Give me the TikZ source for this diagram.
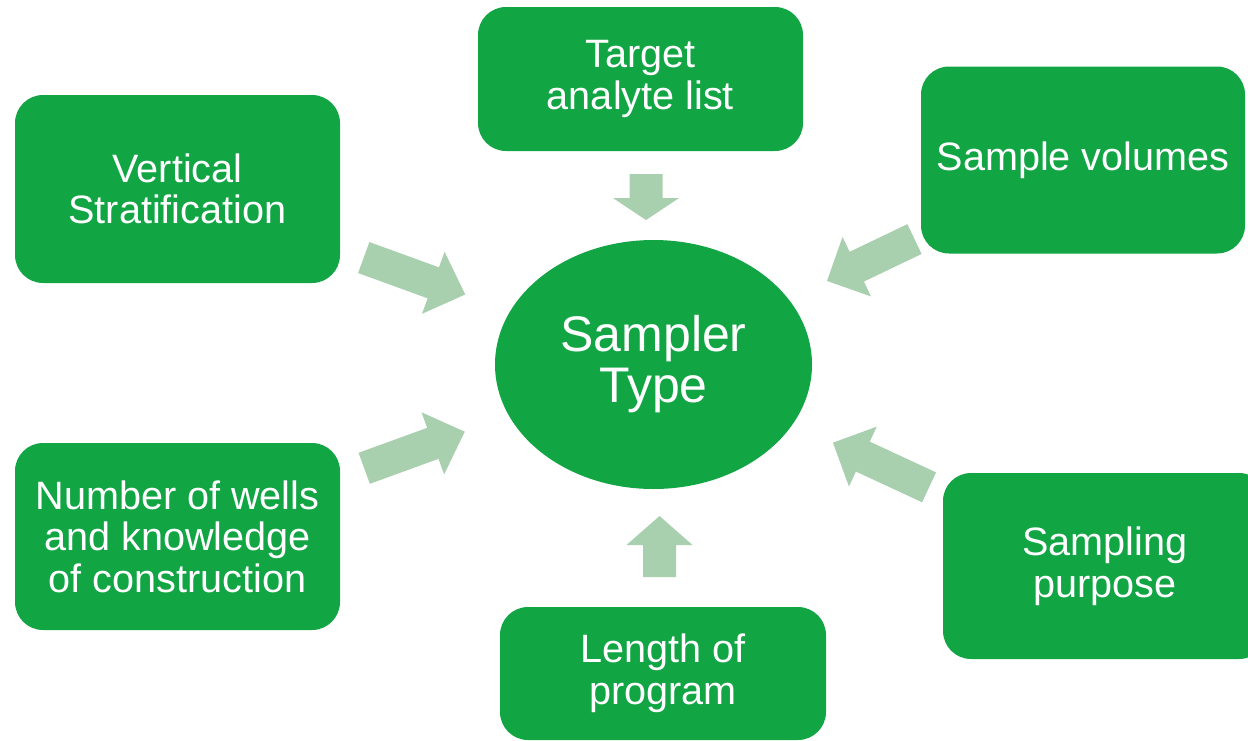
\documentclass[tikz,border=0pt]{standalone}
\usepackage{fontspec}
\setmainfont{Liberation Sans}
\usepackage{xcolor}
\usetikzlibrary{shapes.geometric}
\definecolor{boxgreen}{RGB}{17,165,68}
\definecolor{arrowgreen}{RGB}{169,208,174}

\tikzset{
  factorbox/.style={rectangle, rounded corners=14pt, fill=boxgreen, text=white,
    align=center, inner sep=0pt, font=\fontsize{19.8}{20.8}\selectfont},
  corebox/.style={ellipse, fill=boxgreen, text=white, align=center, inner sep=0pt,
    font=\fontsize{25}{25.5}\selectfont},
  pics/blockarrow/.style 2 args={code={
    \fill[arrowgreen] (-#1/2,-16.5) -- (#1/2-#2,-16.5) -- (#1/2-#2,-33) -- (#1/2,0)
      -- (#1/2-#2,33) -- (#1/2-#2,16.5) -- (-#1/2,16.5) -- cycle;
  }}
}

\begin{document}
\begin{tikzpicture}[x=0.5pt,y=-0.5pt]
\useasboundingbox (0,0) rectangle (1248,740);

% 1. CENTRE
\node[corebox, minimum width=158.5pt, minimum height=124.5pt] (core) at (653.5,364.5) {Sampler\\Type};

% 2. FACTOR BOXES
\node[factorbox, minimum width=162.5pt, minimum height=94pt] (vert) at (177.5,189) {Vertical\\Stratification};
\node[factorbox, minimum width=162.5pt, minimum height=72pt] (target) at (640.5,79) {Target\\analyte list};
\node[factorbox, minimum width=162pt, minimum height=93.5pt] (volume) at (1083,160) {Sample volumes};
\node[factorbox, minimum width=162.5pt, minimum height=93.5pt] (wells) at (177.5,536.5) {Number of wells\\and knowledge\\of construction};
\node[factorbox, minimum width=163pt, minimum height=66.5pt] (length) at (663,673.5) {Length of\\program};
\node[factorbox, minimum width=162pt, minimum height=93pt] (purpose) at (1105,566) {Sampling\\purpose};

% 3. BLOCK ARROWS
\pic[rotate=-20] (avert) at (414.5,276) {blockarrow={108}{34}};
\pic[rotate=20] (awells) at (414.5,450) {blockarrow={107}{34}};
\pic[rotate=-90] (atarget) at (646,197) {blockarrow={46}{22}};
\pic[rotate=90] (alength) at (659.5,546.5) {blockarrow={61}{29}};
\pic[rotate=205.6] (avolume) at (870.75,260) {blockarrow={97}{33}};
\pic[rotate=155.1] (apurpose) at (881,465) {blockarrow={106}{33}};

\end{tikzpicture}
\end{document}
